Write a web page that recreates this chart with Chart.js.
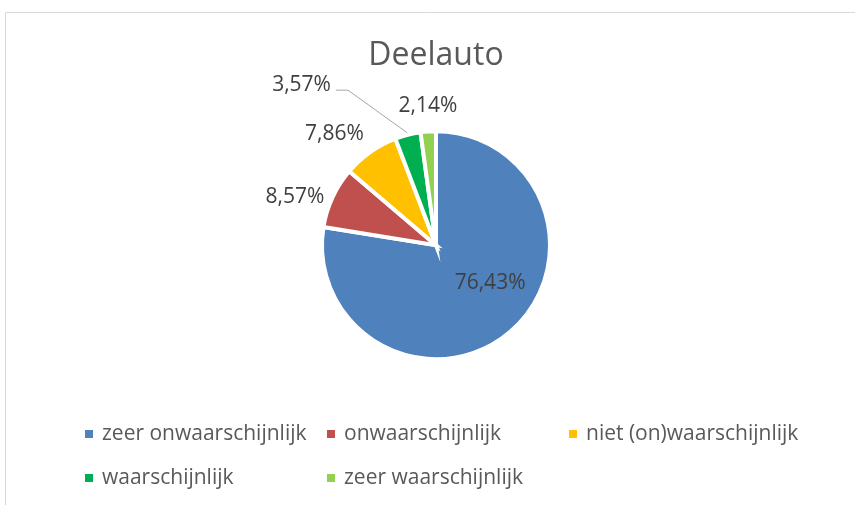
<!DOCTYPE html>
<html>
<head>
<meta charset="utf-8">
<script src="https://cdn.jsdelivr.net/npm/chart.js@4/dist/chart.umd.min.js"></script>
<style>
  html, body { margin: 0; padding: 0; background: #fff; }
</style>
</head>
<body>
<canvas id="pieChart" width="855" height="505"></canvas>
<script>

// data
let categories = ['zeer onwaarschijnlijk', 'onwaarschijnlijk', 'niet (on)waarschijnlijk', 'waarschijnlijk', 'zeer waarschijnlijk'];
let percentages = [76.43, 8.57, 7.86, 3.57, 2.14];
let sliceColors = ['#4F81BD', '#C0504D', '#FFC000', '#00B050', '#92D050'];

// label placement: [angle shift from slice middle (deg), distance from centre (px)]
const labelPlace = [[-14.6, 66], [-6, 149], [-7.1, 151], [-25.7, 209], [0.6, 139]];
const legendCols = [85, 327, 569];
const legendRows = [434, 478];

const fmt = v => v.toFixed(2).replace('.', ',') + '%';

// white background + thin grey chart frame
const frame = {
  id: 'frame',
  beforeDraw(chart) {
    const ctx = chart.ctx;
    ctx.save();
    ctx.fillStyle = '#fff';
    ctx.fillRect(0, 0, chart.width, chart.height);
    ctx.strokeStyle = '#d9d9d9';
    ctx.lineWidth = 1;
    ctx.beginPath();
    ctx.moveTo(5.5, chart.height);
    ctx.lineTo(5.5, 12.5);
    ctx.lineTo(chart.width, 12.5);
    ctx.stroke();
    ctx.restore();
  }
};

// percentage labels on / next to the slices
const pieLabels = {
  id: 'pieLabels',
  afterDatasetsDraw(chart) {
    const ctx = chart.ctx;
    const meta = chart.getDatasetMeta(0);
    ctx.save();
    ctx.font = '21px "Open Sans"';
    ctx.fillStyle = '#404040';
    ctx.textAlign = 'center';
    ctx.textBaseline = 'middle';
    meta.data.forEach((arc, i) => {
      const mid = (arc.startAngle + arc.endAngle) / 2;
      const a = mid + labelPlace[i][0] * Math.PI / 180;
      const x = arc.x + Math.cos(a) * labelPlace[i][1];
      const y = arc.y + Math.sin(a) * labelPlace[i][1];
      const txt = fmt(percentages[i]);
      ctx.fillText(txt, x, y);

      // leader line for the label that sits away from its slice
      if (i === 3) {
        const w = ctx.measureText(txt).width;
        const x0 = x + w / 2 + 5, y0 = y + 5;
        ctx.strokeStyle = '#a6a6a6';
        ctx.lineWidth = 1;
        ctx.beginPath();
        ctx.moveTo(x0, y0);
        ctx.lineTo(x0 + 12, y0);
        ctx.lineTo(arc.x + Math.cos(mid) * (arc.outerRadius + 2), arc.y + Math.sin(mid) * (arc.outerRadius + 2));
        ctx.stroke();
      }
    });
    ctx.restore();
  }
};

// legend laid out in columns like the original
const gridLegend = {
  id: 'gridLegend',
  afterDraw(chart) {
    const ctx = chart.ctx;
    ctx.save();
    ctx.font = '21px "Open Sans"';
    ctx.textBaseline = 'middle';
    ctx.textAlign = 'left';
    categories.forEach((name, i) => {
      const x = legendCols[i % 3];
      const y = legendRows[Math.floor(i / 3)];
      ctx.fillStyle = sliceColors[i];
      ctx.fillRect(x, y - 4, 8, 8);
      ctx.fillStyle = '#595959';
      ctx.fillText(name, x + 17, y);
    });
    ctx.restore();
  }
};

let ctxPie = document.getElementById('pieChart').getContext('2d');
let pieChart = new Chart(ctxPie, {
  type: 'pie',
  data: {
    labels: categories,
    datasets: [{
      data: percentages,
      backgroundColor: sliceColors,
      borderColor: '#ffffff',
      borderWidth: 4,
      borderJoinStyle: 'miter'
    }]
  },
  options: {
    responsive: false,
    animation: false,
    radius: 114,
    layout: {
      padding: { top: 20, bottom: 90, left: 200, right: 183 }
    },
    plugins: {
      title: {
        display: true,
        text: 'Deelauto',
        color: '#595959',
        font: { family: 'Open Sans', size: 32, weight: 'normal' },
        padding: { top: 17, bottom: 0 }
      },
      legend: { display: false },
      tooltip: { enabled: false }
    }
  },
  plugins: [frame, pieLabels, gridLegend]
});

</script>
</body>
</html>
